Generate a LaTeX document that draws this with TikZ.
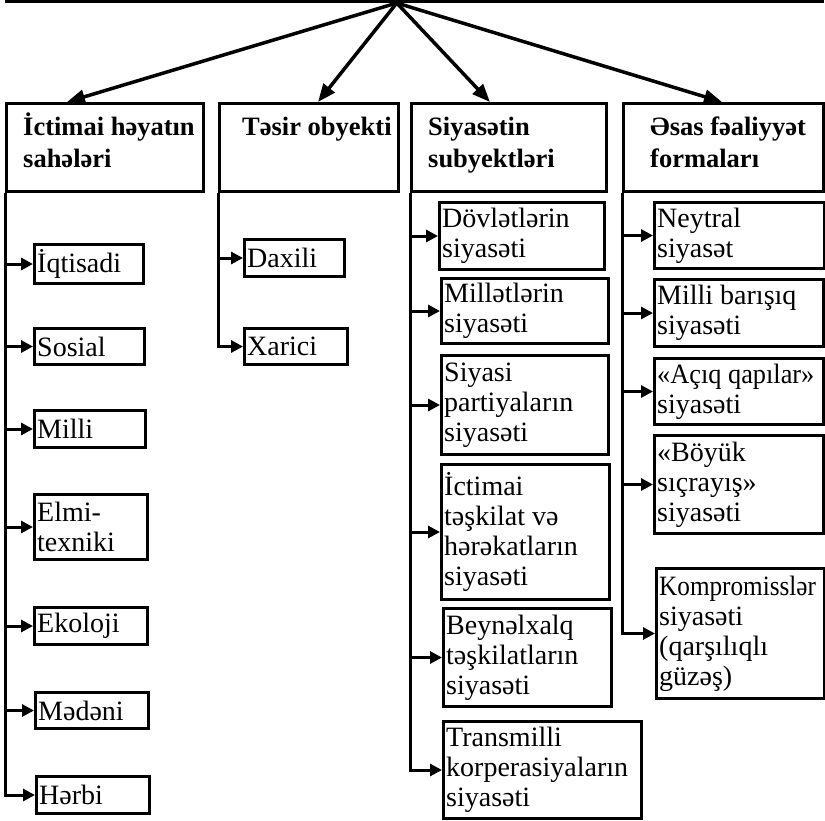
\documentclass[tikz,border=0pt]{standalone}
\usepackage{fontspec}
\usepackage{graphicx}
\setmainfont{Liberation Serif}
\usetikzlibrary{arrows.meta,calc}
\newcommand\mkbox[6]{%
  \node[sb,minimum width={#4-#2},minimum height={#5-#3}] (#1) at (#2,#3) {};
  \node[sbtxt] (#1t) at ([xshift=4pt]#1.west) {#6};}
\newcommand\mkhdr[7]{%
  \node[hdr,minimum width={#4-#2},minimum height={#5-#3}] (#1) at (#2,#3) {};
  \node[hdrtxt] (#1t) at ([xshift=#6pt,yshift=-10.5pt]#1.north west) {\strut #7};}
\newcommand\narrow[2]{\scalebox{#1}[1]{#2}}
\begin{document}
\begin{tikzpicture}[x=1pt,y=-1pt,
  hdr/.style={draw,line width=3pt,anchor=north west,inner sep=0pt},
  hdrtxt/.style={anchor=north west,align=left,inner sep=0pt,font=\bfseries\fontsize{26.5}{32}\selectfont},
  sb/.style={draw,line width=3pt,anchor=north west,inner sep=0pt},
  sbtxt/.style={anchor=west,align=left,inner sep=0pt,font=\fontsize{28}{30}\selectfont},
  branch/.style={line width=3pt,-{Triangle[length=12pt,width=12pt]}},
  toparr/.style={line width=3.5pt,-{Triangle[length=18pt,width=14pt]}}]
\useasboundingbox (0,0) rectangle (825,820);
\clip (0,0) rectangle (825,820);
% top box (cut off)
\node[draw,line width=3.5pt,anchor=south west,minimum width=815,minimum height=40,inner sep=0pt] (topbox) at (5,3) {};
\coordinate (apex) at ([xshift=-17.5pt]topbox.south);
% headers
\mkhdr{h1}{5}{102}{202}{190}{18}{İctimai həyatın\\sahələri}
\mkhdr{h2}{218}{102}{397}{190}{24}{Təsir obyekti}
\mkhdr{h3}{410}{102}{605}{190}{18}{Siyasətin\\subyektləri}
\mkhdr{h4}{622}{102}{822}{190}{28}{Əsas fəaliyyət\\formaları}
% top arrows
\draw[toparr] (apex) -- ([xshift=62pt]h1.north west);
\draw[toparr] (apex) -- ([xshift=100pt]h2.north west);
\draw[toparr] (apex) -- ([xshift=80pt]h3.north west);
\draw[toparr] (apex) -- ([xshift=100pt]h4.north west);
% column 1
\mkbox{a1}{33}{243}{142}{282}{İqtisadi}
\mkbox{a2}{33}{327}{143}{363}{Sosial}
\mkbox{a3}{33}{409}{144}{446}{Milli}
\mkbox{a4}{33}{493}{146}{558}{Elmi-\\texniki}
\mkbox{a5}{33}{606}{146}{643}{Ekoloji}
\mkbox{a6}{34}{691}{147}{727}{Mədəni}
\mkbox{a7}{35}{775}{148}{812}{Hərbi}
% column 2
\mkbox{b1}{243}{238}{343}{275}{Daxili}
\mkbox{b2}{243}{327}{346}{363}{Xarici}
% column 3
\mkbox{c1}{438}{201}{603}{268}{Dövlətlərin\\siyasəti}
\mkbox{c2}{440}{277}{607}{342}{Millətlərin\\siyasəti}
\mkbox{c3}{440}{354}{607}{453}{Siyasi\\partiyaların\\siyasəti}
\mkbox{c4}{440}{463}{608}{598}{İctimai\\təşkilat və\\hərəkatların\\siyasəti}
\mkbox{c5}{442}{607}{610}{705}{Beynəlxalq\\təşkilatların\\siyasəti}
\mkbox{c6}{442}{720}{640}{817}{Transmilli\\korperasiyaların\\siyasəti}
% column 4
\mkbox{d1}{653}{201}{823}{267}{Neytral\\siyasət}
\mkbox{d2}{653}{278}{822}{345}{Milli barışıq\\siyasəti}
\mkbox{d3}{653}{357}{822}{423}{\narrow{0.94}{«Açıq qapılar»}\\siyasəti}
\mkbox{d4}{653}{434}{822}{532}{«Böyük\\sıçrayış»\\siyasəti}
\mkbox{d5}{655}{567}{823}{697}{\narrow{0.9}{Kompromisslər}\\siyasəti\\(qarşılıqlı\\güzəş)}
% branches column 1
\draw[branch] (h1.south west) |- (a7.west);
\foreach \n in {a1,a2,a3,a4,a5,a6}{\draw[branch] (h1.south west |- \n.west) -- (\n.west);}
% column 2
\draw[branch] (h2.south west) |- (b2.west);
\draw[branch] (h2.south west |- b1.west) -- (b1.west);
% column 3
\draw[branch] (h3.south west) |- (c6.west);
\foreach \n in {c1,c2,c3,c4,c5}{\draw[branch] (h3.south west |- \n.west) -- (\n.west);}
% column 4
\draw[branch] (h4.south west) |- (d5.west);
\foreach \n in {d1,d2,d3,d4}{\draw[branch] (h4.south west |- \n.west) -- (\n.west);}
\end{tikzpicture}
\end{document}
